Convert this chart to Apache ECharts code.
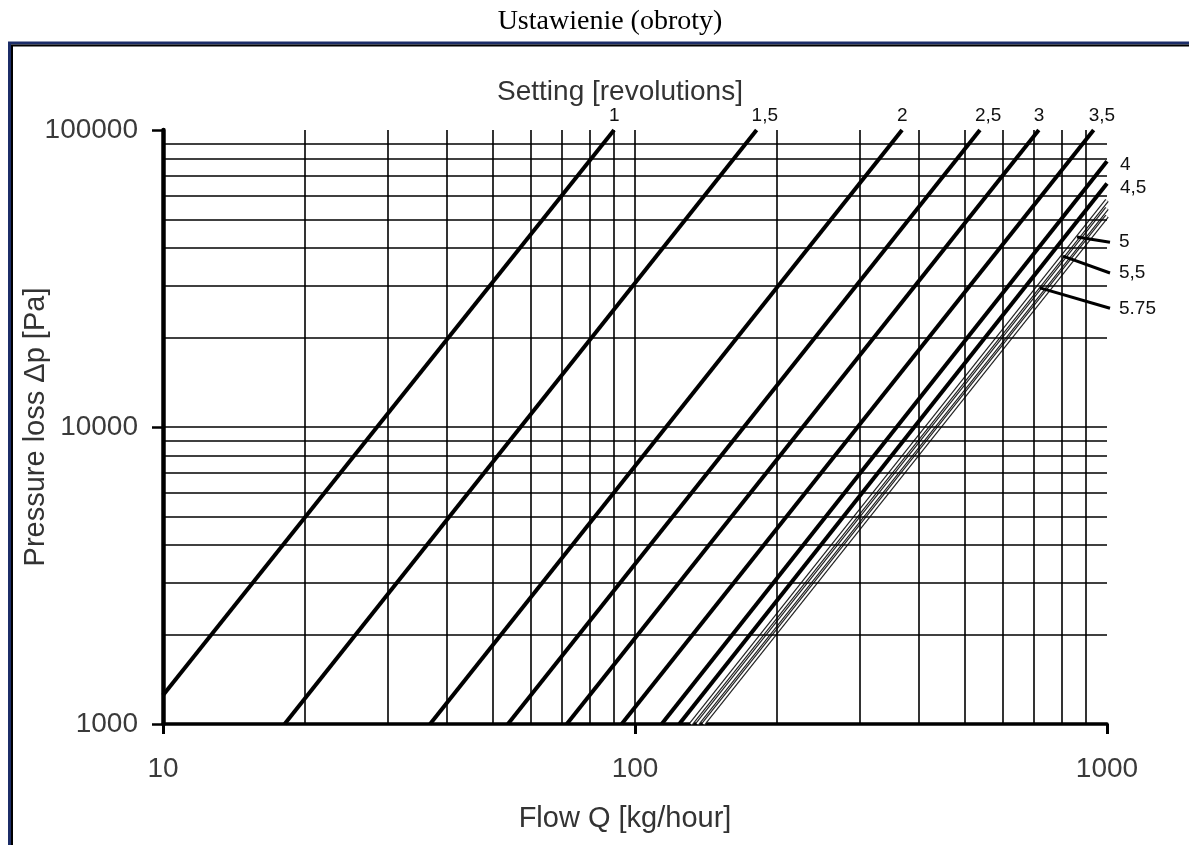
<!DOCTYPE html>
<html>
<head>
<meta charset="utf-8">
<script src="https://cdn.jsdelivr.net/npm/echarts@6/dist/echarts.min.js"></script>
<style>
  html, body { margin: 0; padding: 0; background: #fff; }
  #chart { width: 1189px; height: 845px; }
</style>
</head>
<body>
<div id="chart"></div>
<script>
// settings (revolutions) and the visible ends of each curve, [Q kg/h, dp Pa]
const settings = ['1', '1,5', '2', '2,5', '3', '3,5', '4', '4,5', '5', '5,5', '5.75'];
const lineStart = [[10, 1250], [18.1, 1000], [36.8, 1000], [53.8, 1000], [71.7, 1000], [93.7, 1000],
  [113.9, 1000], [124.1, 1000], [131.4, 1000], [135.5, 1000], [139.6, 1000]];
const lineEnd = [[90.3, 100000], [181, 100000], [368, 100000], [538, 100000], [717, 100000], [937, 100000],
  [1000, 78500], [1000, 66000], [1000, 57900], [1000, 54500], [1000, 51300]];
const hollow = [false, false, false, false, false, false, false, false, true, true, true];

const xGrid = [20, 30, 40, 50, 60, 70, 80, 90, 100, 200, 300, 400, 500, 600, 700, 800, 900];
const yGrid = [2000, 3000, 4000, 5000, 6000, 7000, 8000, 9000, 10000,
  20000, 30000, 40000, 50000, 60000, 70000, 80000, 90000];

// leader lines for 5 / 5,5 / 5.75 : tip on the curve, and dp where the text sits
const pointerTips = [[864, 43600], [807, 37600], [721, 29400]];
const pointerTextAt = [41900, 33000, 25100];

const chart = echarts.init(document.getElementById('chart'));

const font = "'Liberation Sans', Arial, sans-serif";

let series = [
  {
    type: 'line',
    data: [],
    z: 1,
    markLine: {
      silent: true,
      symbol: ['none', 'none'],
      label: { show: false },
      lineStyle: { color: '#000', width: 1.6, type: 'solid' },
      emphasis: { disabled: true },
      data: xGrid.map((v) => ({ xAxis: v })).concat(yGrid.map((v) => ({ yAxis: v }))),
    },
  },
]

settings.forEach((s, i) => {
  series.push({
    type: 'line',
    name: s,
    data: [lineStart[i], lineEnd[i]],
    symbol: 'none',
    clip: true,
    z: 3,
    lineStyle: { color: hollow[i] ? '#222' : '#000', width: hollow[i] ? 4.4 : 4 },
  })
  if (hollow[i]) {
    series.push({
      type: 'line',
      data: [lineStart[i], lineEnd[i]],
      symbol: 'none',
      clip: true,
      z: 4,
      lineStyle: { color: '#fff', width: 2 },
    })
  }
})

const option = {
  animation: false,
  backgroundColor: '#fff',
  title: {
    text: 'Ustawienie (obroty)',
    left: 605,
    top: 3,
    textAlign: 'center',
    textStyle: { fontFamily: "'Liberation Serif', 'Times New Roman', serif", fontSize: 28, fontWeight: 'normal', color: '#000' },
  },
  grid: { left: 163, right: 82, top: 130, bottom: 121, containLabel: false, outerBoundsMode: 'none' },
  xAxis: {
    type: 'log',
    logBase: 10,
    min: 10,
    max: 1000,
    name: 'Flow Q [kg/hour]',
    nameLocation: 'middle',
    nameGap: 80,
    nameMoveOverlap: false,
    nameTextStyle: { fontFamily: font, fontSize: 29, color: '#333', padding: [0, 20, 0, 0] },
    axisLine: { show: true, lineStyle: { color: '#000', width: 3.5 } },
    axisTick: { show: true, length: 10, lineStyle: { color: '#000', width: 3 } },
    axisLabel: {
      margin: 31,
      fontFamily: font,
      fontSize: 28,
      color: '#3a3a3a',
      formatter: (v) => String(Math.round(v)),
    },
    splitLine: { show: false },
  },
  yAxis: {
    type: 'log',
    logBase: 10,
    min: 1000,
    max: 100000,
    name: 'Pressure loss \u0394p [Pa]',
    nameLocation: 'middle',
    nameGap: 113,
    nameMoveOverlap: false,
    nameTextStyle: { fontFamily: font, fontSize: 29, color: '#333' },
    axisLine: { show: true, lineStyle: { color: '#000', width: 4.5 } },
    axisTick: { show: true, length: 11, lineStyle: { color: '#000', width: 2.5 } },
    axisLabel: {
      margin: 25,
      fontFamily: font,
      fontSize: 28,
      color: '#3a3a3a',
      formatter: (v) => String(Math.round(v)),
    },
    splitLine: { show: false },
  },
  series: series,
}

chart.setOption(option)

// labels next to the curves, placed in data coordinates
function px(pt) {
  return chart.convertToPixel({ gridIndex: 0 }, pt)
}
let labelStyle = { fontFamily: font, fontSize: 19, fill: '#111' }
let graphics = [
  // page frame
  { type: 'rect', shape: { x: 9.5, y: 43, width: 1300, height: 900 }, style: { fill: null, stroke: '#1c2d68', lineWidth: 3 }, z: 0, silent: true },
  { type: 'rect', shape: { x: 12, y: 45.5, width: 1300, height: 900 }, style: { fill: null, stroke: '#000', lineWidth: 2 }, z: 0, silent: true },
  {
    type: 'text',
    x: 620,
    y: 92,
    style: { text: 'Setting [revolutions]', fontFamily: font, fontSize: 28, fill: '#333', align: 'center', verticalAlign: 'middle' },
  },
]
settings.forEach((s, i) => {
  let p = px(lineEnd[i])
  if (i < 6) {
    graphics.push({ type: 'text', x: p[0] - 5, y: p[1] - 5, style: { ...labelStyle, text: s, align: 'left', verticalAlign: 'bottom' } })
  } else if (i < 8) {
    graphics.push({ type: 'text', x: p[0] + 13, y: p[1] + 4, style: { ...labelStyle, text: s, align: 'left', verticalAlign: 'middle' } })
  } else {
    let k = i - 8
    let tip = px(pointerTips[k])
    let end = px([1000, pointerTextAt[k]])
    graphics.push({
      type: 'line',
      shape: { x1: tip[0], y1: tip[1], x2: end[0] + 3, y2: end[1] },
      style: { stroke: '#000', lineWidth: 3 },
      z: 10,
    })
    graphics.push({ type: 'text', x: end[0] + 12, y: end[1], style: { ...labelStyle, text: s, align: 'left', verticalAlign: 'middle' } })
  }
})
chart.setOption({ graphic: graphics })
</script>
</body>
</html>
